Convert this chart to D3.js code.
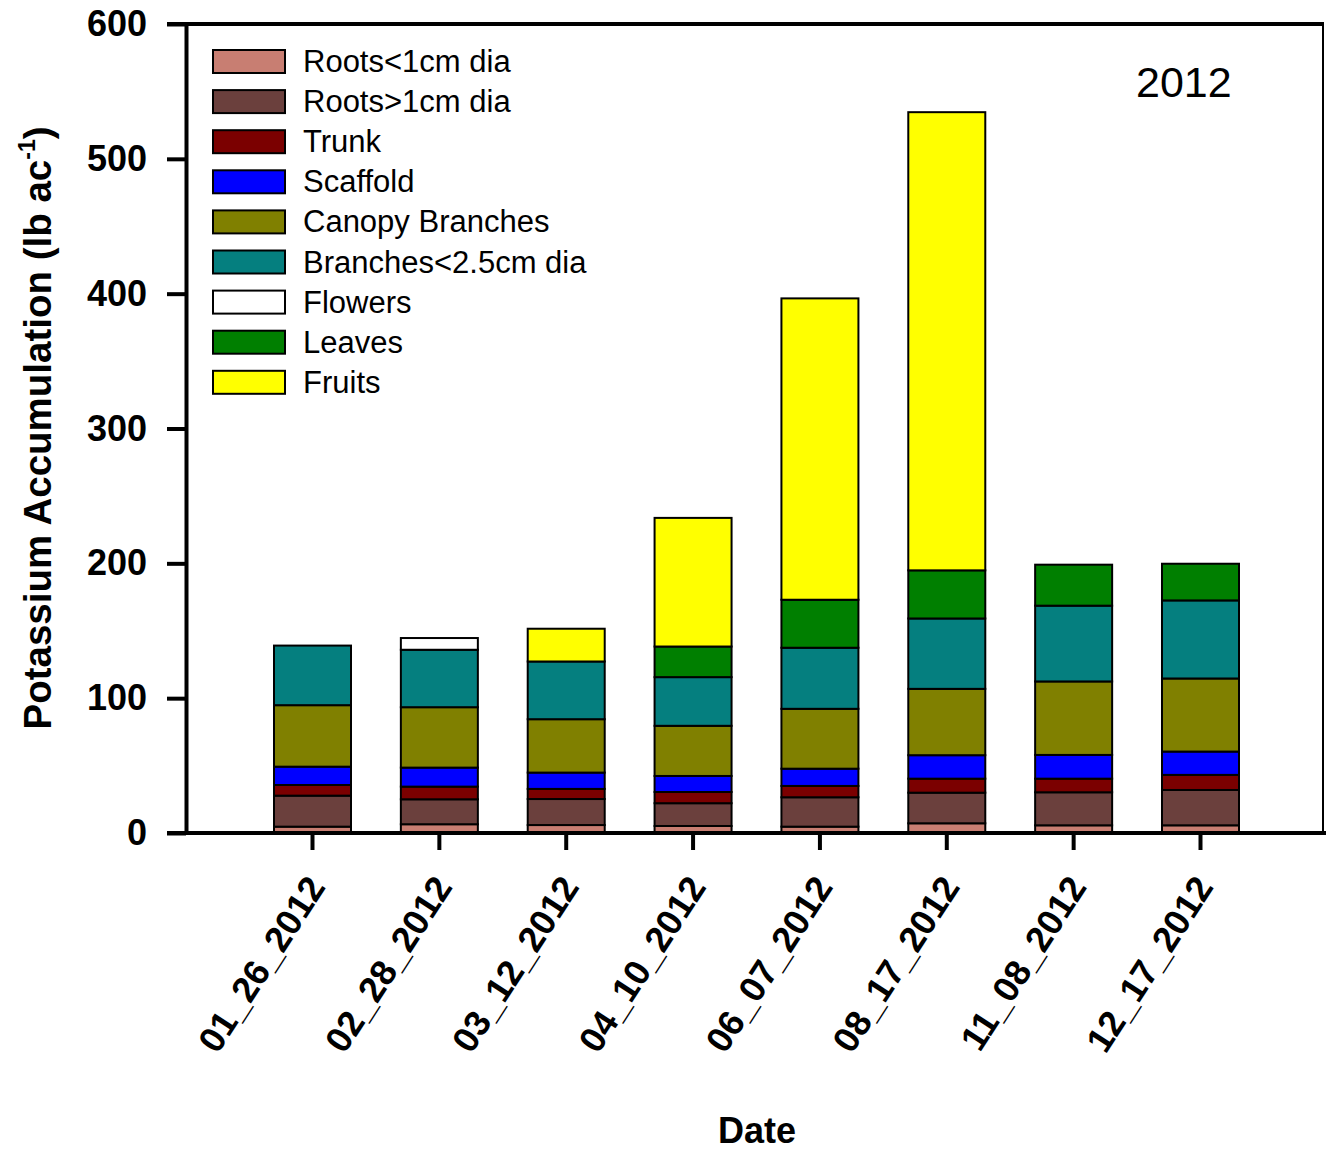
<!DOCTYPE html>
<html>
<head>
<meta charset="utf-8">
<script src="https://cdn.jsdelivr.net/npm/d3@7"></script>
<style>
  html, body { margin: 0; padding: 0; background: #fff; }
  svg { display: block; font-family: "Liberation Sans", Arial, Helvetica, sans-serif; }
</style>
</head>
<body>
<svg id="chart" width="1326" height="1153"></svg>
<script>
// ---- Data ----
const dates = ["01_26_2012", "02_28_2012", "03_12_2012", "04_10_2012", "06_07_2012", "08_17_2012", "11_08_2012", "12_17_2012"];
const seriesNames = ["Roots<1cm dia", "Roots>1cm dia", "Trunk", "Scaffold", "Canopy Branches", "Branches<2.5cm dia", "Flowers", "Leaves", "Fruits"];
const seriesColors = ["#c87e72", "#6b403d", "#7b0000", "#0000ff", "#808000", "#057f7f", "#ffffff", "#007f00", "#ffff00"];
const rootsSmall = [4.7, 6.5, 5.9, 5.2, 4.7, 7.2, 5.7, 5.7];
const rootsLarge = [23.0, 18.5, 19.3, 16.9, 21.8, 22.7, 24.5, 26.2];
const trunk = [7.9, 9.4, 7.5, 8.3, 8.4, 10.4, 10.1, 11.2];
const scaffold = [13.6, 14.1, 12.1, 11.9, 12.8, 17.4, 17.6, 17.3];
const canopy = [45.6, 44.8, 39.6, 37.2, 44.4, 49.2, 54.5, 54.2];
const branches = [44.2, 42.6, 42.8, 36.1, 45.3, 52.2, 56.2, 57.9];
const flowers = [0, 8.7, 0, 0, 0, 0, 0, 0];
const leaves = [0, 0, 0, 22.7, 35.6, 35.7, 30.4, 27.2];
const fruits = [0, 0, 24.3, 95.4, 223.5, 339.8, 0, 0];
const yTicks = [0, 100, 200, 300, 400, 500, 600];
const yearLabel = "2012";
const xTitle = "Date";

const seriesValues = [rootsSmall, rootsLarge, trunk, scaffold, canopy, branches, flowers, leaves, fruits];

// table for stacking
const table = dates.map((d, i) => {
  const row = { date: d };
  seriesNames.forEach((s, j) => { row[s] = seriesValues[j][i]; });
  return row;
});

const svg = d3.select("#chart");
const pLeft = 186, pRight = 1323, pTop = 24, pBottom = 833;

const x = d3.scaleBand().domain(dates).range([274, 1239]).paddingInner(0.393).paddingOuter(0);
const y = d3.scaleLinear().domain([0, 600]).range([pBottom, pTop]);
const color = d3.scaleOrdinal().domain(seriesNames).range(seriesColors);

const stacked = d3.stack().keys(seriesNames)(table);

// bars
const layers = svg.append("g").selectAll("g").data(stacked).join("g")
  .attr("fill", d => color(d.key));
layers.selectAll("rect")
  .data(d => d.filter(p => p[1] - p[0] > 0).map(p => ({ p, date: p.data.date })))
  .join("rect")
  .attr("x", d => x(d.date))
  .attr("width", x.bandwidth())
  .attr("y", d => y(d.p[1]))
  .attr("height", d => y(d.p[0]) - y(d.p[1]))
  .attr("stroke", "#000")
  .attr("stroke-width", 2);

// frame: top & right
svg.append("line").attr("x1", pLeft - 19).attr("x2", pRight + 1).attr("y1", pTop).attr("y2", pTop)
  .attr("stroke", "#000").attr("stroke-width", 4);
svg.append("line").attr("x1", pRight).attr("x2", pRight).attr("y1", pTop).attr("y2", pBottom)
  .attr("stroke", "#000").attr("stroke-width", 2);

// y axis
const yAxis = svg.append("g").attr("transform", `translate(${pLeft},0)`)
  .call(d3.axisLeft(y).tickValues(yTicks).tickSize(19).tickPadding(20).tickSizeOuter(0));
yAxis.select(".domain").attr("stroke-width", 4);
yAxis.selectAll(".tick line").attr("stroke-width", 4);
yAxis.selectAll(".tick text").attr("font-size", 36).attr("font-weight", "bold")
  .attr("font-family", "'Liberation Sans', Arial, sans-serif").attr("fill", "#000");

// x axis
const xAxis = svg.append("g").attr("transform", `translate(0,${pBottom})`)
  .call(d3.axisBottom(x).tickSize(17).tickSizeOuter(0));
xAxis.select(".domain").attr("d", `M${pLeft - 19},0H1326`).attr("stroke-width", 4);
xAxis.selectAll(".tick line").attr("stroke-width", 4);
xAxis.selectAll(".tick text")
  .attr("font-size", 36).attr("font-weight", "bold")
  .attr("font-family", "'Liberation Sans', Arial, sans-serif").attr("fill", "#000")
  .attr("text-anchor", "end").attr("y", 0).attr("dy", 0)
  .attr("transform", "translate(14,54) rotate(-57)");

// axis titles
svg.append("text")
  .attr("transform", "translate(757,1143)")
  .attr("text-anchor", "middle").attr("font-size", 36).attr("font-weight", "bold")
  .text(xTitle);

const yt = svg.append("text")
  .attr("transform", "translate(51,428) rotate(-90)")
  .attr("text-anchor", "middle").attr("font-size", 38.5).attr("font-weight", "bold");
yt.append("tspan").text("Potassium Accumulation (lb ac");
yt.append("tspan").attr("font-size", 23).attr("dy", -16).text("-1");
yt.append("tspan").attr("dy", 16).text(")");

// year label
svg.append("text").attr("x", 1136).attr("y", 97).attr("font-size", 43).text(yearLabel);

// legend
const legend = svg.append("g");
const items = legend.selectAll("g").data(seriesNames).join("g")
  .attr("transform", (d, i) => `translate(213,${50 + i * 40.1})`);
items.append("rect").attr("width", 72).attr("height", 23)
  .attr("fill", d => color(d)).attr("stroke", "#000").attr("stroke-width", 2);
items.append("text").attr("x", 90).attr("y", 22).attr("font-size", 31).attr("fill", "#000").text(d => d);
</script>
</body>
</html>
